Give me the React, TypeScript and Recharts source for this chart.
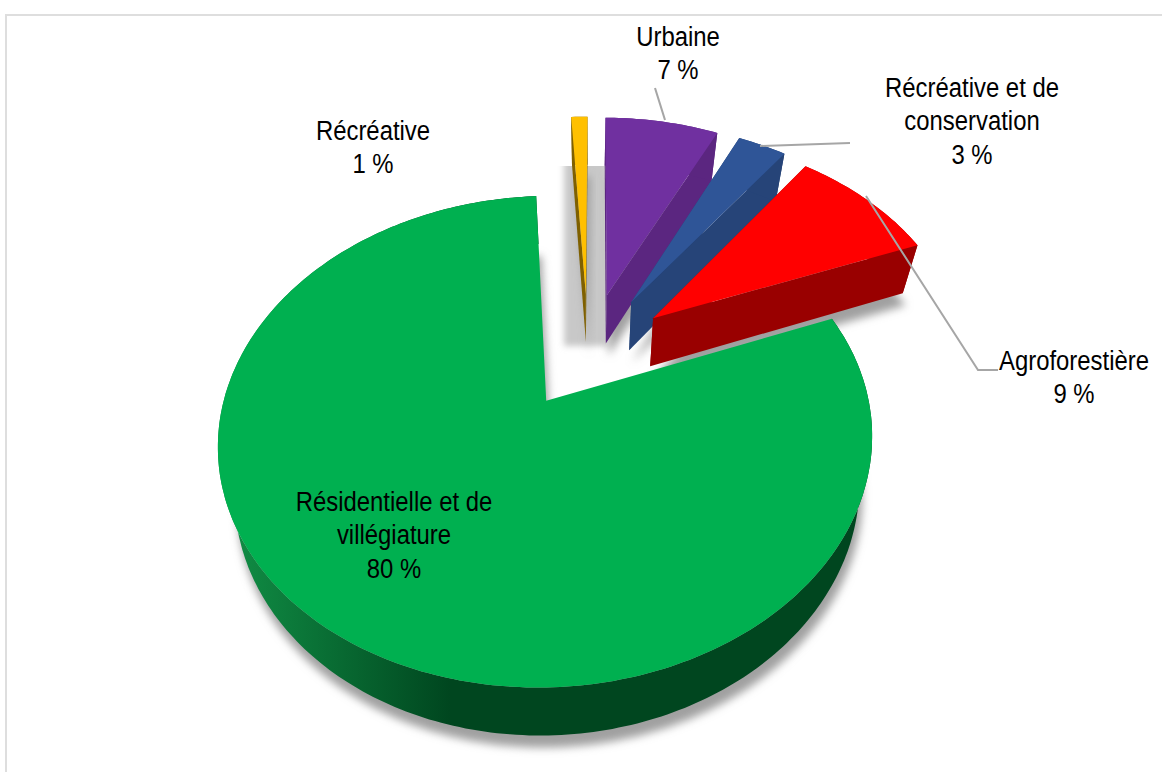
import type React from 'react'
import { Pie, PieChart } from 'recharts'

const CATEGORIES = ['Récréative', 'Urbaine', 'Récréative et de conservation', 'Agroforestière', 'Résidentielle et de villégiature']
const VALUES = [1, 7, 3, 9, 80]

const COLORS_TOP = ['#ffc000', '#7030a0', '#2f5597', '#ff0000', '#00b050']
const COLORS_WALL = ['#7f6000', '#5b2680', '#264478', '#990000', 'url(#wallGreen)']
const EXPLODE = [0.28, 0.28, 0.28, 0.27, 0.24]

const LABEL_LINES = [
  ['Récréative', '1 %'],
  ['Urbaine', '7 %'],
  ['Récréative et de', 'conservation', '3 %'],
  ['Agroforestière', '9 %'],
  ['Résidentielle et de', 'villégiature', '80 %']
]
const LABEL_POS = [
  { x: 373, y: 140 },
  { x: 678, y: 46 },
  { x: 972, y: 97 },
  { x: 1074, y: 370 },
  { x: 394, y: 511 }
]
const LEADERS = ['', '655,88 665,120', '850,143 760,146', '998,370 978,370 866,196', '']

const CX = 588
const CY = 354
const RADIUS = 312
const SQUASH = 0.717
const PERSPECTIVE = 0.1612
const DEPTH_Y = 48
const DEPTH_SCALE = 0.955
const LINE_HEIGHT = 33.5
const FONT_SIZE = 27
const FONT_NARROW = 0.885
const FONT = '"Liberation Sans", sans-serif'

const rad = (d: number) => (d * Math.PI) / 180

// plane coordinates (unit = radius) to screen, lower=true gives the underside of the disc
function project(X: number, Y: number, cx: number, cy: number, r: number, lower = false): [number, number] {
  const w = 1 + PERSPECTIVE * Y
  const sx = lower ? r * DEPTH_SCALE : r
  const oy = lower ? cy + DEPTH_Y : cy
  return [cx + (sx * X) / w, oy - (r * SQUASH * Y) / w]
}

const toPath = (pts: [number, number][]) =>
  'M' + pts.map((p) => `${p[0].toFixed(1)} ${p[1].toFixed(1)}`).join('L') + 'Z'

function SliceShape(props: any): React.JSX.Element {
  const { cx, cy, outerRadius: r, startAngle, endAngle, index } = props
  const mid = rad((startAngle + endAngle) / 2)
  const ox = EXPLODE[index] * Math.cos(mid)
  const oy = EXPLODE[index] * Math.sin(mid)

  const steps = Math.max(2, Math.ceil(Math.abs(endAngle - startAngle)))
  const angles: number[] = []
  for (let i = 0; i <= steps; i++) angles.push(startAngle + ((endAngle - startAngle) * i) / steps)
  const rim = (lower: boolean) =>
    angles.map((a) => project(ox + Math.cos(rad(a)), oy + Math.sin(rad(a)), cx, cy, r, lower))

  const apexTop = project(ox, oy, cx, cy, r)
  const apexLow = project(ox, oy, cx, cy, r, true)
  const rimTop = rim(false)
  const rimLow = rim(true)
  const isBig = index === VALUES.length - 1

  return (
    <g>
      <defs>
        <filter id={`soft${index}`} x="-30%" y="-30%" width="160%" height="160%">
          <feGaussianBlur stdDeviation="4" />
        </filter>
        <filter id="softBox" x="-40%" y="-10%" width="180%" height="120%">
          <feGaussianBlur stdDeviation="3" />
        </filter>
        <clipPath id="boxClip">
          <rect x={540} y={166} width={80} height={200} />
        </clipPath>
        <linearGradient id="wallGreen" gradientUnits="userSpaceOnUse" x1="235" y1="0" x2="450" y2="0">
          <stop offset="0" stopColor="#108c44" />
          <stop offset="1" stopColor="#00461f" />
        </linearGradient>
      </defs>
      {index === 0 && (
        // flat grey patch behind the small slices, as in the source picture
        <g clipPath="url(#boxClip)">
          <rect x={564} y={150} width={44} height={196} fill="#c8c8c8" filter="url(#softBox)" />
        </g>
      )}
      <path
        d={toPath([apexLow, ...rimLow])}
        fill="#a0a0a0"
        filter={`url(#soft${index})`}
        transform="translate(3 12)"
      />
      {!isBig && (
        <>
          <path d={toPath([apexTop, rimTop[0], rimLow[0], apexLow])} fill={COLORS_WALL[index]} />
          <path
            d={toPath([apexTop, rimTop[rimTop.length - 1], rimLow[rimLow.length - 1], apexLow])}
            fill={COLORS_WALL[index]}
          />
        </>
      )}
      <path d={toPath([...rimTop, ...[...rimLow].reverse()])} fill={COLORS_WALL[index]} />
      <path d={toPath([apexTop, ...rimTop])} fill={COLORS_TOP[index]} />
    </g>
  )
}

function SliceLabel(props: any): React.JSX.Element {
  const { index } = props
  const pos = LABEL_POS[index]
  return (
    <g>
      {LEADERS[index] && <polyline points={LEADERS[index]} fill="none" stroke="#a6a6a6" strokeWidth={2} />}
      <text
        transform={`translate(${pos.x} ${pos.y}) scale(${FONT_NARROW} 1)`}
        textAnchor="middle"
        fontFamily={FONT}
        fontSize={FONT_SIZE}
        fill="#000"
      >
        {LABEL_LINES[index].map((line, i) => (
          <tspan key={line} x={0} dy={i === 0 ? 0 : LINE_HEIGHT}>
            {line}
          </tspan>
        ))}
      </text>
    </g>
  )
}

const data = CATEGORIES.map((name, i) => ({ name, value: VALUES[i] }))

export default function App(): React.JSX.Element {
  return (
    <div style={{ position: 'absolute', left: 0, top: 0, width: 1162, height: 772, background: '#fff', overflow: 'hidden' }}>
      <div style={{ position: 'absolute', left: 5, top: 14, right: 0, bottom: 0, borderTop: '2px solid #dedede', borderLeft: '2px solid #dedede' }} />
      <div style={{ position: 'absolute', left: 0, top: 0 }}>
        <PieChart width={1162} height={772} margin={{ top: 0, right: 0, bottom: 0, left: 0 }}>
          <Pie
            data={data}
            dataKey="value"
            nameKey="name"
            cx={CX}
            cy={CY}
            innerRadius={0}
            outerRadius={RADIUS}
            startAngle={93.3}
            endAngle={-266.7}
            stroke="none"
            shape={SliceShape}
            label={SliceLabel}
            labelLine={false}
            isAnimationActive={false}
          />
        </PieChart>
      </div>
    </div>
  )
}
